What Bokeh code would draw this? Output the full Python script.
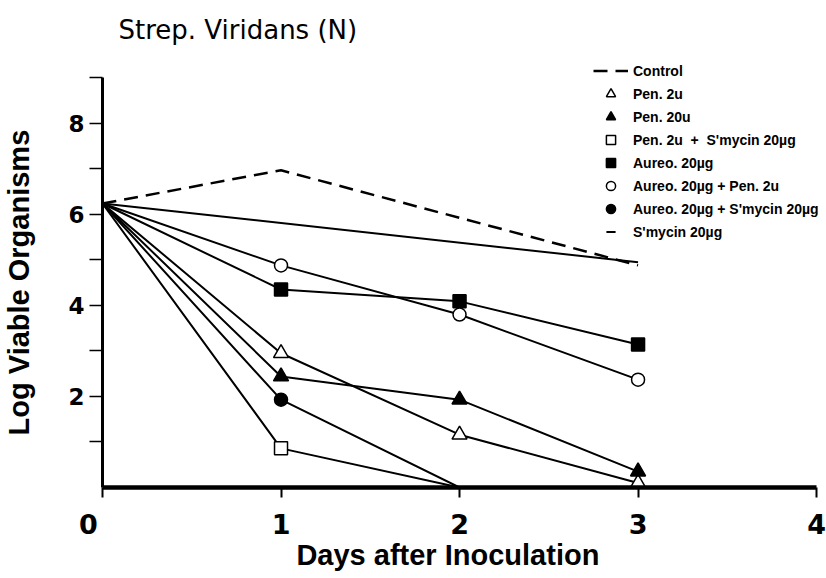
from bokeh.plotting import figure
from bokeh.models import Range1d, FixedTicker, Legend, LegendItem
from bokeh.embed import file_html
from bokeh.resources import INLINE

# ---- data ----
control_days = [0, 1, 3]
control = [6.24, 6.97, 4.88]

pen2_days = [0, 1, 2, 3]
pen2 = [6.24, 2.95, 1.16, 0.10]

pen20_days = [0, 1, 2, 3]
pen20 = [6.24, 2.44, 1.93, 0.35]

pen2_smy_days = [0, 1, 2]
pen2_smy = [6.24, 0.86, 0.0]

aureo_days = [0, 1, 2, 3]
aureo = [6.24, 4.35, 4.09, 3.14]

aureo_pen_days = [0, 1, 2, 3]
aureo_pen = [6.24, 4.88, 3.80, 2.37]

aureo_smy_days = [0, 1, 2]
aureo_smy = [6.24, 1.93, 0.0]

smy_days = [0, 3]
smy = [6.24, 4.95]

x_ticks = [0, 1, 2, 3, 4]
x_labels = {0: "0\u00a0\u00a0\u00a0", 1: "1", 2: "2", 3: "3", 4: "4"}
y_ticks = [1, 2, 3, 4, 5, 6, 7, 8, 9]
y_labels = {1: "", 2: "2", 3: "", 4: "4", 5: "", 6: "6", 7: "", 8: "8", 9: ""}

labels = ["Control", "Pen. 2u", "Pen. 20u", "Pen. 2u  +  S'mycin 20\u00b5g",
          "Aureo. 20\u00b5g", "Aureo. 20\u00b5g + Pen. 2u",
          "Aureo. 20\u00b5g + S'mycin 20\u00b5g", "S'mycin 20\u00b5g"]

p = figure(width=826, height=578, output_backend="svg", toolbar_location=None,
           x_range=Range1d(0, 4.05), y_range=Range1d(0, 9.36),
           min_border_left=102, min_border_right=1, min_border_top=61, min_border_bottom=91)
p.outline_line_color = None
p.grid.visible = False
p.background_fill_color = "white"
p.border_fill_color = "white"

p.title.text = "Strep. Viridans (N)"
p.title.text_font = "DejaVu Sans"
p.title.text_font_size = "26px"
p.title.text_font_style = "normal"
p.title.text_color = "black"
p.title.align = "left"
p.title.offset = 16
p.title.vertical_align = "top"
p.title.standoff = 29

# axes
xa = p.xaxis[0]
xa.bounds = (0, 4)
xa.ticker = FixedTicker(ticks=x_ticks, minor_ticks=[])
xa.major_label_overrides = x_labels
xa.axis_line_width = 4.5
xa.axis_line_color = "black"
xa.major_tick_line_width = 2
xa.major_tick_out = 10
xa.major_tick_in = 0
xa.minor_tick_out = 0
xa.minor_tick_in = 0
xa.major_label_text_font = "DejaVu Sans"
xa.major_label_text_font_style = "bold"
xa.major_label_text_font_size = "27px"
xa.major_label_text_color = "black"
xa.major_label_standoff = 11
xa.axis_label = "Days after Inoculation\u00a0\u00a0\u00a0\u00a0"
xa.axis_label_text_font = "Liberation Sans"
xa.axis_label_text_font_style = "bold"
xa.axis_label_text_font_size = "29px"
xa.axis_label_text_color = "black"
xa.axis_label_standoff = -4

ya = p.yaxis[0]
ya.bounds = (0, 9)
ya.ticker = FixedTicker(ticks=y_ticks, minor_ticks=[])
ya.major_label_overrides = y_labels
ya.axis_line_width = 3
ya.axis_line_color = "black"
ya.major_tick_line_width = 1.5
ya.major_tick_out = 13
ya.major_tick_in = 0
ya.minor_tick_out = 0
ya.minor_tick_in = 0
ya.major_label_text_font = "DejaVu Sans"
ya.major_label_text_font_style = "bold"
ya.major_label_text_font_size = "23px"
ya.major_label_text_color = "black"
ya.major_label_standoff = 5
ya.axis_label = "Log Viable Organisms\u00a0\u00a0"
ya.axis_label_text_font = "Liberation Sans"
ya.axis_label_text_font_style = "bold"
ya.axis_label_text_font_size = "29px"
ya.axis_label_text_color = "black"
ya.axis_label_standoff = 30

# lines
r_control = p.line(control_days, control, line_color="black", line_width=2.5, line_dash="14 8")
series = [
    (pen2_days, pen2, "triangle", "white"),
    (pen20_days, pen20, "triangle", "black"),
    (pen2_smy_days, pen2_smy, "square", "white"),
    (aureo_days, aureo, "square", "black"),
    (aureo_pen_days, aureo_pen, "circle", "white"),
    (aureo_smy_days, aureo_smy, "circle", "black"),
]
for d, v, m, f in series:
    p.line(d, v, line_color="black", line_width=2)
r_smy = p.line(smy_days, smy, line_color="black", line_width=2)

marker_renderers = []
for d, v, m, f in series:
    md = [a for a, b in zip(d, v) if a > 0 and b > 0]
    mv = [b for a, b in zip(d, v) if a > 0 and b > 0]
    size = 15 if m == "triangle" else 13
    r = p.scatter(md, mv, marker=m, size=size, fill_color=f, line_color="black", line_width=1.5)
    marker_renderers.append(r)

r_smy_key = p.scatter(smy_days, smy, marker="dash", size=0, line_color="black", line_width=2)

items = [LegendItem(label=labels[0], renderers=[r_control])]
for lab, r in zip(labels[1:7], marker_renderers):
    items.append(LegendItem(label=lab, renderers=[r]))
items.append(LegendItem(label=labels[7], renderers=[r_smy_key]))

legend = Legend(items=items, location=(491, 244), orientation="vertical",
                glyph_width=35, glyph_height=23, label_height=23, spacing=0,
                padding=0, margin=0, label_standoff=5,
                label_text_font="Liberation Sans", label_text_font_style="bold",
                label_text_font_size="14px", label_text_color="black",
                border_line_color=None, background_fill_alpha=0)
p.add_layout(legend, "center")

open("out.html", "w").write(file_html(p, INLINE))
